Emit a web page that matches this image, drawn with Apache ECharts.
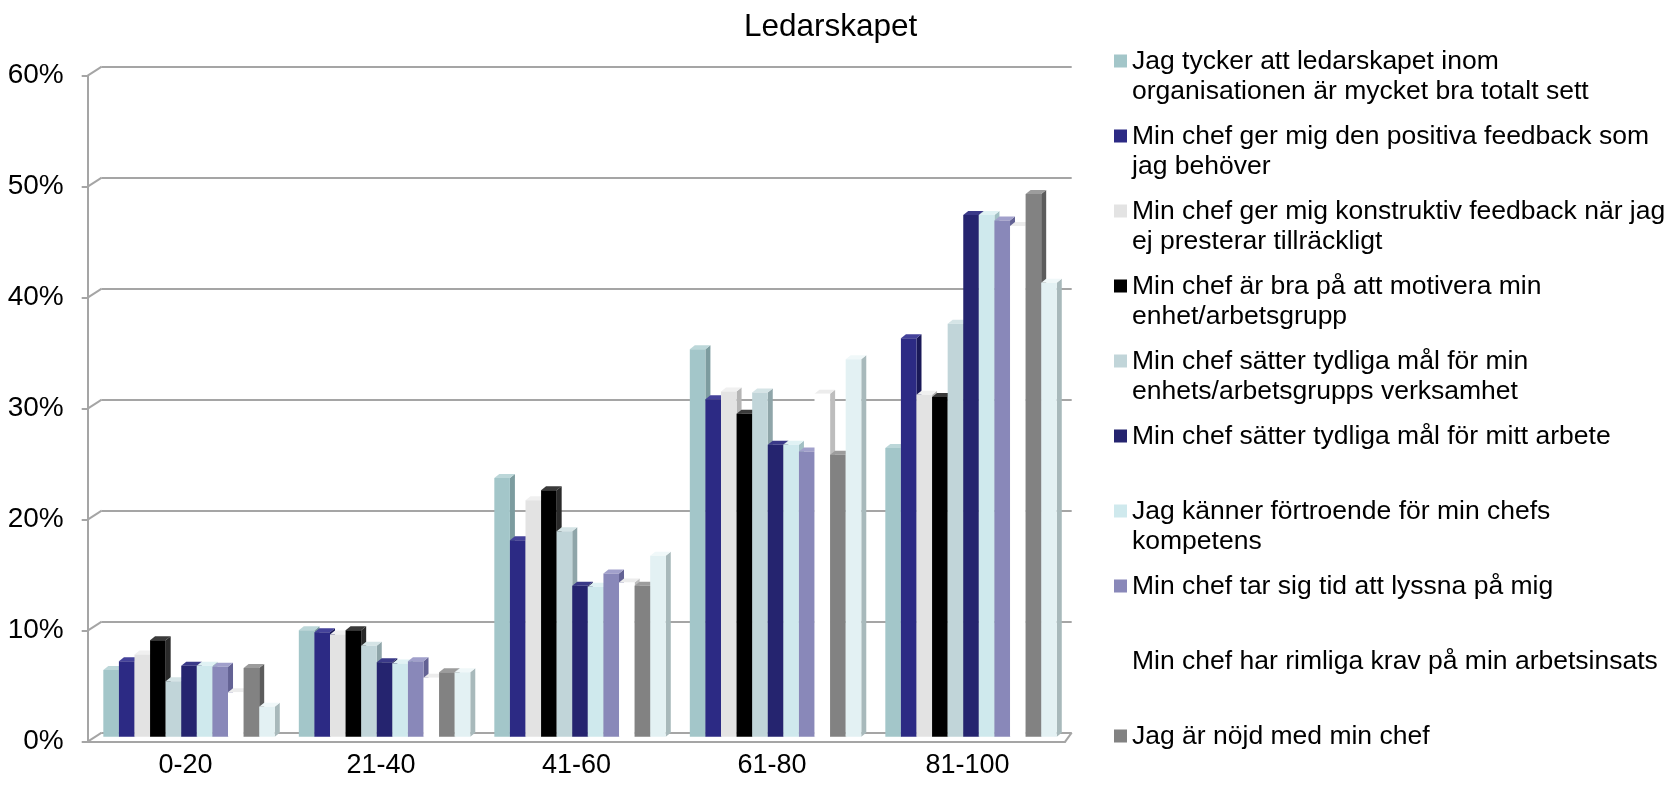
<!DOCTYPE html>
<html>
<head>
<meta charset="utf-8">
<title>Ledarskapet</title>
<script src="https://cdn.jsdelivr.net/npm/echarts@6/dist/echarts.min.js"></script>
<style>
  html, body { margin: 0; padding: 0; background: #ffffff; }
  #chart { width: 1680px; height: 791px; }
</style>
</head>
<body>
<div id="chart"></div>
<script>
// ---- data -------------------------------------------------------------
const categories = ['0-20', '21-40', '41-60', '61-80', '81-100'];

const seriesNames = [
  'Jag tycker att ledarskapet inom\norganisationen är mycket bra totalt sett',
  'Min chef ger mig den positiva feedback som\njag behöver',
  'Min chef ger mig konstruktiv feedback när jag\nej presterar tillräckligt',
  'Min chef är bra på att motivera min\nenhet/arbetsgrupp',
  'Min chef sätter tydliga mål för min\nenhets/arbetsgrupps verksamhet',
  'Min chef sätter tydliga mål för mitt arbete',
  'Jag känner förtroende för min chefs\nkompetens',
  'Min chef tar sig tid att lyssna på mig',
  'Min chef har rimliga krav på min arbetsinsats',
  'Jag är nöjd med min chef',
  'Serie 11'
];

// percent of answers per score band
const ledarskapetTotalt   = [6.0, 9.6, 23.3, 34.9, 26.0];
const positivFeedback     = [6.8, 9.4, 17.7, 30.4, 35.9];
const konstruktivFeedback = [7.4, 9.2, 21.3, 31.1, 30.8];
const motivera            = [8.7, 9.6, 22.2, 29.1, 30.6];
const malEnhet            = [5.0, 8.2, 18.5, 31.0, 37.2];
const malArbete           = [6.4, 6.7, 13.6, 26.3, 47.0];
const fortroende          = [6.4, 6.6, 13.5, 26.3, 47.0];
const lyssna              = [6.3, 6.8, 14.7, 25.7, 46.5];
const rimligaKrav         = [4.0, 5.3, 13.9, 30.9, 46.0];
const nojd                = [6.2, 5.8, 13.6, 25.4, 48.9];
const serie11             = [2.7, 5.8, 16.3, 34.0, 40.9];

const seriesValues = [
  ledarskapetTotalt, positivFeedback, konstruktivFeedback, motivera, malEnhet,
  malArbete, fortroende, lyssna, rimligaKrav, nojd, serie11
];

const yTicks = [0, 10, 20, 30, 40, 50, 60];

// ---- styling ----------------------------------------------------------
// front / side / top shade of each column
const palette = [
  ['#A3C6C9', '#7C9C9F', '#BCD7D9'],
  ['#2C2A84', '#1A1958', '#44429A'],
  ['#E3E3E3', '#B5B5B5', '#F0F0F0'],
  ['#000000', '#2A2A2A', '#3A3A3A'],
  ['#C1D5D9', '#8FA5A9', '#D5E4E6'],
  ['#25246F', '#16154A', '#3A3988'],
  ['#CFE9ED', '#A2C0C4', '#E0F2F4'],
  ['#8988B9', '#636294', '#A1A0CB'],
  ['#FFFFFF', '#BDBDBD', '#ECECEC'],
  ['#828282', '#5C5C5C', '#9C9C9C'],
  ['#E3F1F3', '#A8B9BB', '#F0F8F9']
];

const FONT = 'Arial, "Liberation Sans", Helvetica, sans-serif';
const GRID_LINE = '#A5A5A5';

// the plot is drawn as three stacked planes: back wall, column plane, front axes
const FRONT = { left: 87.7, top: 75.7, width: 977.5, height: 666 };
const MID   = { left: 91.3, top: 70.7, width: 977.5, height: 666 };
const BACK  = { left: 101.7, top: 66.7, width: 970, height: 666 };

const GROUP_GAP = 0.123;   // share of a category left empty
const DX = 5, DY = 4;      // column depth
const N = seriesValues.length;

function columnRenderer(si) {
  const [front, side, top] = palette[si];
  return function (params, api) {
    const ci = api.value(0);
    const v = api.value(1);
    const pTop = api.coord([ci, v]);
    const pBase = api.coord([ci, 0]);
    const band = api.size([1, 0])[0];
    const groupW = band * (1 - GROUP_GAP);
    const w = groupW / N;
    const x0 = pTop[0] - groupW / 2 + si * w;
    const x1 = x0 + w;
    const yT = pTop[1], yB = pBase[1];
    return {
      type: 'group',
      children: [
        { type: 'polygon',
          shape: { points: [[x1, yT], [x1 + DX, yT - DY], [x1 + DX, yB - DY], [x1, yB]] },
          style: { fill: side } },
        { type: 'polygon',
          shape: { points: [[x0, yT], [x0 + DX, yT - DY], [x1 + DX, yT - DY], [x1, yT]] },
          style: { fill: top } },
        { type: 'rect',
          shape: { x: x0, y: yT, width: w, height: yB - yT },
          style: { fill: front } }
      ]
    };
  };
}

const series = seriesValues.map((vals, si) => ({
  type: 'custom',
  name: seriesNames[si],
  xAxisIndex: 2,
  yAxisIndex: 2,
  itemStyle: { color: palette[si][0] },
  renderItem: columnRenderer(si),
  encode: { x: 0, y: 1 },
  data: vals.map((v, ci) => [ci, v]),
  z: 2 + si * 0.01
}));

// legend swatch sits beside the first line of a two-line label
const LINE_H = 30.5;
const legendIcon = 'path://M0,8.5h13v13h-13z M0,0h0.01 M0,' + (2 * LINE_H) + 'h0.01';

const valueAxisBase = {
  type: 'value', min: 0, max: 60, interval: 10
};

const option = {
  backgroundColor: '#ffffff',
  animation: false,
  title: {
    text: 'Ledarskapet',
    left: 739,
    top: 6,
    textStyle: { fontFamily: FONT, fontSize: 31.5, fontWeight: 'normal', color: '#000000' }
  },
  legend: {
    orient: 'vertical',
    left: 1109,
    top: 41,
    itemWidth: 13,
    itemHeight: 2 * LINE_H,
    itemGap: 14,
    icon: legendIcon,
    selectedMode: false,
    data: seriesNames.slice(0, 10),
    formatter: name => name.indexOf('\n') >= 0 ? name : name + '\n ',
    textStyle: { fontFamily: FONT, fontSize: 26.5, lineHeight: LINE_H, color: '#000000' }
  },
  grid: [
    Object.assign({}, BACK),
    Object.assign({}, FRONT),
    Object.assign({}, MID)
  ],
  xAxis: [
    { type: 'category', gridIndex: 0, data: categories, show: false },
    {
      type: 'category', gridIndex: 1, data: categories,
      axisLine: { lineStyle: { color: GRID_LINE, width: 2 } },
      axisTick: { length: 6, lineStyle: { color: GRID_LINE, width: 2 } },
      axisLabel: { margin: 10, fontFamily: FONT, fontSize: 27, color: '#000000' }
    },
    { type: 'category', gridIndex: 2, data: categories, show: false }
  ],
  yAxis: [
    Object.assign({}, valueAxisBase, {
      gridIndex: 0,
      axisLine: { show: false }, axisTick: { show: false }, axisLabel: { show: false },
      splitLine: { show: true, lineStyle: { color: GRID_LINE, width: 2 } }
    }),
    Object.assign({}, valueAxisBase, {
      gridIndex: 1,
      axisLine: { show: true, lineStyle: { color: GRID_LINE, width: 2 } },
      axisTick: { show: true, length: 6, lineStyle: { color: GRID_LINE, width: 2 } },
      splitLine: { show: false },
      axisLabel: {
        margin: 24, fontFamily: FONT, fontSize: 28, color: '#000000',
        formatter: v => yTicks.indexOf(v) >= 0 ? v + '%' : ''
      }
    }),
    Object.assign({}, valueAxisBase, { gridIndex: 2, show: false, splitLine: { show: false } })
  ],
  series: series
};

const chart = echarts.init(document.getElementById('chart'), null, { renderer: 'canvas' });
chart.setOption(option);

// side wall and floor edges joining the front axes to the back wall
const edges = yTicks.map(v => {
  const yF = chart.convertToPixel({ yAxisIndex: 1 }, v);
  const yB = chart.convertToPixel({ yAxisIndex: 0 }, v);
  return {
    type: 'line', silent: true, z: 1,
    shape: { x1: FRONT.left, y1: yF, x2: BACK.left, y2: yB },
    style: { stroke: GRID_LINE, lineWidth: 2 }
  };
});
const yF0 = chart.convertToPixel({ yAxisIndex: 1 }, 0);
const yB0 = chart.convertToPixel({ yAxisIndex: 0 }, 0);
edges.push({
  type: 'line', silent: true, z: 1,
  shape: { x1: FRONT.left + FRONT.width, y1: yF0, x2: BACK.left + BACK.width, y2: yB0 },
  style: { stroke: GRID_LINE, lineWidth: 2 }
});
chart.setOption({ graphic: edges });
</script>
</body>
</html>
